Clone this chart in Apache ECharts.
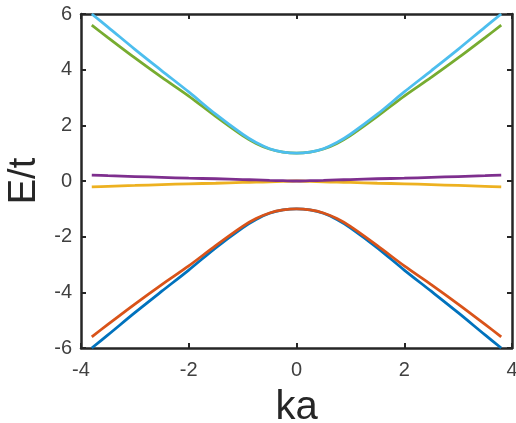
<!DOCTYPE html>
<html>
<head>
<meta charset="utf-8">
<script src="https://cdn.jsdelivr.net/npm/echarts@6/dist/echarts.min.js"></script>
<style>
  html, body { margin: 0; padding: 0; background: #fff; }
  #chart { width: 516px; height: 423px; }
</style>
</head>
<body>
<div id="chart"></div>
<script>
// ka values (shared by every band)
const ka = [-3.8, -3.5, -3, -2.5, -2, -1.5, -1, -0.75, -0.5, -0.25, 0, 0.25, 0.5, 0.75, 1, 1.5, 2, 2.5, 3, 3.5, 3.8]

// energy bands E/t
const bandBlue   = [-6.0, -5.53, -4.73, -3.96, -3.2, -2.4, -1.68, -1.38, -1.16, -1.04, -1.0, -1.04, -1.16, -1.38, -1.68, -2.4, -3.2, -3.96, -4.73, -5.53, -6.0]
const bandOrange = [-5.6, -5.15, -4.42, -3.72, -3.05, -2.32, -1.63, -1.35, -1.15, -1.04, -1.0, -1.04, -1.15, -1.35, -1.63, -2.32, -3.05, -3.72, -4.42, -5.15, -5.6]
const bandYellow = [-0.21, -0.19, -0.16, -0.13, -0.1, -0.08, -0.05, -0.04, -0.03, -0.01, 0, -0.01, -0.03, -0.04, -0.05, -0.08, -0.1, -0.13, -0.16, -0.19, -0.21]
const bandPurple = [0.21, 0.19, 0.16, 0.13, 0.1, 0.08, 0.05, 0.04, 0.02, 0.01, 0, 0.01, 0.02, 0.04, 0.05, 0.08, 0.1, 0.13, 0.16, 0.19, 0.21]
const bandGreen  = [5.6, 5.15, 4.42, 3.72, 3.05, 2.32, 1.63, 1.35, 1.15, 1.04, 1.0, 1.04, 1.15, 1.35, 1.63, 2.32, 3.05, 3.72, 4.42, 5.15, 5.6]
const bandCyan   = [6.0, 5.53, 4.73, 3.96, 3.2, 2.4, 1.68, 1.38, 1.16, 1.04, 1.0, 1.04, 1.16, 1.38, 1.68, 2.4, 3.2, 3.96, 4.73, 5.53, 6.0]

const xTicks = [-4, -2, 0, 2, 4]
const yTicks = [-6, -4, -2, 0, 2, 4, 6]

const bands = [
  { name: 'b1', values: bandBlue, color: '#0072BD' },
  { name: 'b2', values: bandOrange, color: '#D95319' },
  { name: 'b3', values: bandYellow, color: '#EDB120' },
  { name: 'b4', values: bandPurple, color: '#7E2F8E' },
  { name: 'b5', values: bandGreen, color: '#77AC30' },
  { name: 'b6', values: bandCyan, color: '#4DBEEE' }
]

const axisColor = '#262626'
const font = 'Liberation Sans, Arial, Helvetica, sans-serif'

const baseAxis = {
  type: 'value',
  interval: 2,
  axisLine: { show: true, onZero: false, lineStyle: { color: axisColor, width: 2.5 } },
  axisTick: { show: true, inside: true, length: 5, lineStyle: { color: axisColor, width: 2 } },
  splitLine: { show: false }
}

const chart = echarts.init(document.getElementById('chart'))
chart.setOption({
  animation: false,
  backgroundColor: '#fff',
  grid: { left: 81, right: 4, top: 14, bottom: 75, containLabel: false, outerBoundsMode: 'none' },
  xAxis: [
    {
      ...baseAxis,
      position: 'bottom',
      min: xTicks[0], max: xTicks[xTicks.length - 1],
      name: 'ka', nameLocation: 'middle', nameGap: 40,
      nameTextStyle: { fontSize: 40, color: axisColor, fontFamily: font },
      axisLabel: { margin: 12, fontSize: 20, color: '#404040', fontFamily: font }
    },
    {
      ...baseAxis,
      position: 'top',
      min: xTicks[0], max: xTicks[xTicks.length - 1],
      axisLabel: { show: false }
    }
  ],
  yAxis: [
    {
      ...baseAxis,
      position: 'left',
      min: yTicks[0], max: yTicks[yTicks.length - 1],
      name: 'E/t', nameLocation: 'middle', nameGap: 32,
      nameTextStyle: { fontSize: 38, color: axisColor, fontFamily: font },
      axisLabel: { margin: 9, fontSize: 20, color: '#404040', fontFamily: font }
    },
    {
      ...baseAxis,
      position: 'right',
      min: yTicks[0], max: yTicks[yTicks.length - 1],
      axisLabel: { show: false }
    }
  ],
  series: bands.map(b => ({
    name: b.name,
    type: 'line',
    smooth: 0.3,
    showSymbol: false,
    clip: true,
    lineStyle: { color: b.color, width: 2.8 },
    data: ka.map((k, i) => [k, b.values[i]])
  }))
})
</script>
</body>
</html>
